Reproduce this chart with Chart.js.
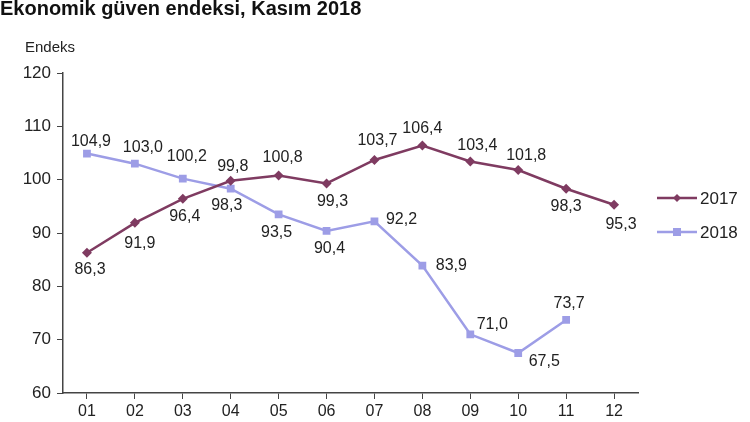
<!DOCTYPE html>
<html>
<head>
<meta charset="utf-8">
<script src="https://cdn.jsdelivr.net/npm/chart.js@4"></script>
<style>
  html, body { margin: 0; padding: 0; background: #fff; }
  #wrap { position: relative; width: 750px; height: 422px; }
</style>
</head>
<body>
<div id="wrap"><canvas id="chart" width="750" height="422"></canvas></div>
<script>
// chart data
const months = ['01', '02', '03', '04', '05', '06', '07', '08', '09', '10', '11', '12'];
const values2017 = [86.3, 91.9, 96.4, 99.8, 100.8, 99.3, 103.7, 106.4, 103.4, 101.8, 98.3, 95.3];
const values2018 = [104.9, 103.0, 100.2, 98.3, 93.5, 90.4, 92.2, 83.9, 71.0, 67.5, 73.7, null];
const yTicks = [60, 70, 80, 90, 100, 110, 120];

const color2017 = '#7f3b61';
const color2018 = '#9d9de6';
const textColor = '#222';
const fontFamily = '"Liberation Sans", Arial, sans-serif';

// where each value label sits relative to its point (dx, dy)
const labelOffsets2017 = [[3, 17], [5, 21], [2, 18], [2, -14], [4, -18], [6, 18], [3, -19], [0, -17], [7, -16], [8, -14], [0, 18], [7, 20]];
const labelOffsets2018 = [[4, -12], [8, -16], [4, -22], [-4, 17], [-2, 18], [3, 18], [27, -2], [29, 0], [22, -10], [26, 9], [3, -16], [0, 0]];

function fmt(v) {
    return v.toFixed(1).replace('.', ',');
}

const extrasPlugin = {
    id: 'extras',
    afterDatasetsDraw(chart) {
        const ctx = chart.ctx;
        ctx.save();
        ctx.fillStyle = textColor;
        ctx.textAlign = 'center';
        ctx.textBaseline = 'middle';
        ctx.font = '16px ' + fontFamily;
        const offsets = [labelOffsets2017, labelOffsets2018];
        chart.data.datasets.forEach((ds, i) => {
            const meta = chart.getDatasetMeta(i);
            meta.data.forEach((pt, j) => {
                const v = ds.data[j];
                if (v === null || v === undefined) return;
                const off = offsets[i][j];
                ctx.fillText(fmt(v), pt.x + off[0], pt.y + off[1]);
            });
        });

        // title and axis caption
        ctx.textAlign = 'left';
        ctx.textBaseline = 'alphabetic';
        ctx.fillStyle = '#111';
        ctx.font = 'bold 20px ' + fontFamily;
        ctx.fillText('Ekonomik güven endeksi, Kasım 2018', 0, 15);
        ctx.fillStyle = textColor;
        ctx.font = '15px ' + fontFamily;
        ctx.fillText('Endeks', 25, 52);

        // legend
        const items = [
            { label: '2017', color: color2017, y: 198, shape: 'diamond' },
            { label: '2018', color: color2018, y: 232, shape: 'square' }
        ];
        items.forEach(it => {
            ctx.strokeStyle = it.color;
            ctx.fillStyle = it.color;
            ctx.lineWidth = 2.5;
            ctx.beginPath();
            ctx.moveTo(657, it.y);
            ctx.lineTo(697, it.y);
            ctx.stroke();
            const cx = 677;
            ctx.beginPath();
            if (it.shape === 'diamond') {
                ctx.moveTo(cx, it.y - 4);
                ctx.lineTo(cx + 4, it.y);
                ctx.lineTo(cx, it.y + 4);
                ctx.lineTo(cx - 4, it.y);
                ctx.closePath();
            } else {
                ctx.rect(cx - 4, it.y - 4, 8, 8);
            }
            ctx.fill();
            ctx.fillStyle = textColor;
            ctx.font = '17px ' + fontFamily;
            ctx.textBaseline = 'middle';
            ctx.fillText(it.label, 700, it.y + 1);
        });
        ctx.restore();
    }
};

const ctx = document.getElementById('chart').getContext('2d');
new Chart(ctx, {
    type: 'line',
    data: {
        labels: months,
        datasets: [{
            label: '2017',
            data: values2017,
            borderColor: color2017,
            backgroundColor: color2017,
            borderWidth: 2.5,
            pointStyle: 'rectRot',
            pointRadius: 5,
            pointBorderWidth: 0,
            tension: 0
        }, {
            label: '2018',
            data: values2018,
            borderColor: color2018,
            backgroundColor: color2018,
            borderWidth: 2.5,
            pointStyle: 'rect',
            pointRadius: 5.5,
            pointBorderWidth: 0,
            tension: 0,
            spanGaps: false
        }]
    },
    options: {
        responsive: false,
        animation: false,
        layout: { padding: { top: 73, right: 112, left: 0, bottom: 0 } },
        plugins: {
            legend: { display: false },
            tooltip: { enabled: false }
        },
        scales: {
            x: {
                offset: true,
                grid: { display: true, drawOnChartArea: false, offset: false, color: '#444', tickLength: 6 },
                border: { color: '#444', width: 1.5 },
                ticks: { color: textColor, font: { family: fontFamily, size: 16 }, padding: 3 },
                afterFit(scale) { scale.height = 29; }
            },
            y: {
                min: 60,
                max: 120,
                afterBuildTicks(scale) { scale.ticks = yTicks.map(v => ({ value: v })); },
                grid: { display: true, drawOnChartArea: false, color: '#444', tickLength: 6 },
                border: { color: '#444', width: 1.5 },
                ticks: { color: textColor, font: { family: fontFamily, size: 17 }, padding: 6 },
                afterFit(scale) { scale.width = 63; }
            }
        }
    },
    plugins: [extrasPlugin]
});
</script>
</body>
</html>
